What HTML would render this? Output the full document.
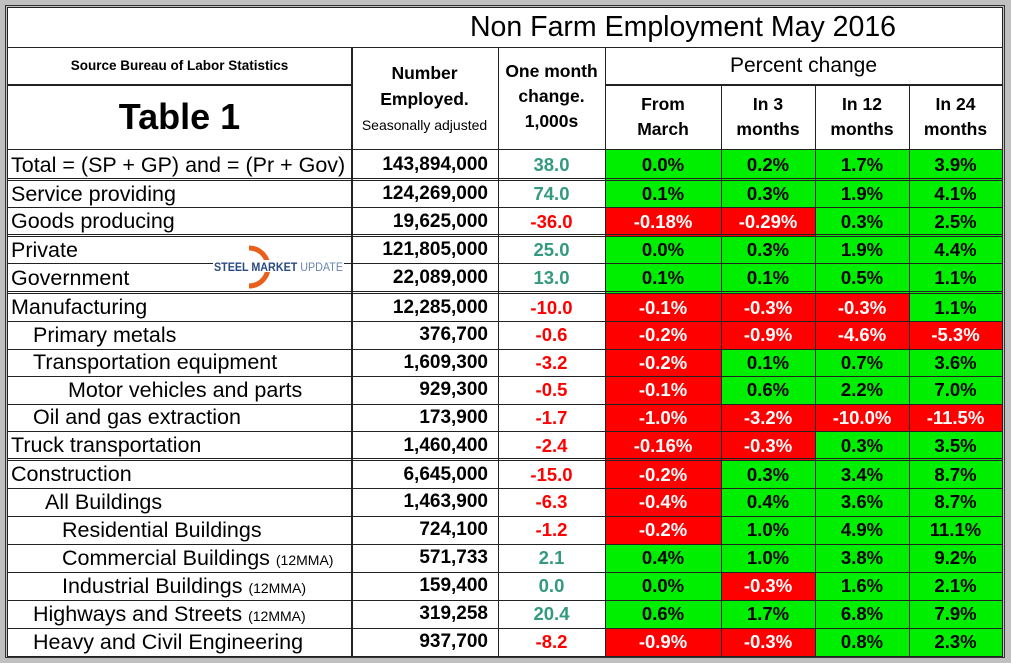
<!DOCTYPE html>
<html><head><meta charset="utf-8">
<style>
body{margin:0;width:1011px;height:663px;background:#c0c0c0;position:relative;overflow:hidden;font-family:"Liberation Sans",Arial,sans-serif}
#frame{position:absolute;left:5px;top:5px;width:1000px;height:653px;border:1px solid #333;box-sizing:border-box}
#tbl{position:absolute;left:7px;top:7px;width:996px;height:650px;background:#fff;border:1px solid #222;box-sizing:border-box}
.c{position:absolute;box-sizing:border-box;display:flex;align-items:center;white-space:nowrap;color:#000}
.hl{position:absolute;background:#222;height:1px}
.vl{position:absolute;background:#222;width:1px}
</style></head><body>
<div id="frame"></div>
<div id="tbl"></div>
<div id="root"></div>
<script>
const labels=["Total = (SP + GP) and = (Pr + Gov)","Service providing","Goods producing","Private","Government","Manufacturing","Primary metals","Transportation equipment","Motor vehicles and parts","Oil and gas extraction","Truck transportation","Construction","All Buildings","Residential Buildings","Commercial Buildings","Industrial Buildings","Highways and Streets","Heavy and Civil Engineering"];
const notes=["","","","","","","","","","","","","","","(12MMA)","(12MMA)","(12MMA)",""];
const indentLevel=[0,0,0,0,0,0,1,1,3,1,0,0,2,4,4,4,1,1];
const employed=["143,894,000","124,269,000","19,625,000","121,805,000","22,089,000","12,285,000","376,700","1,609,300","929,300","173,900","1,460,400","6,645,000","1,463,900","724,100","571,733","159,400","319,258","937,700"];
const monthChange=["38.0","74.0","-36.0","25.0","13.0","-10.0","-0.6","-3.2","-0.5","-1.7","-2.4","-15.0","-6.3","-1.2","2.1","0.0","20.4","-8.2"];
const fromMarch=["0.0%","0.1%","-0.18%","0.0%","0.1%","-0.1%","-0.2%","-0.2%","-0.1%","-1.0%","-0.16%","-0.2%","-0.4%","-0.2%","0.4%","0.0%","0.6%","-0.9%"];
const in3=["0.2%","0.3%","-0.29%","0.3%","0.1%","-0.3%","-0.9%","0.1%","0.6%","-3.2%","-0.3%","0.3%","0.4%","1.0%","1.0%","-0.3%","1.7%","-0.3%"];
const in12=["1.7%","1.9%","0.3%","1.9%","0.5%","-0.3%","-4.6%","0.7%","2.2%","-10.0%","0.3%","3.4%","3.6%","4.9%","3.8%","1.6%","6.8%","0.8%"];
const in24=["3.9%","4.1%","2.5%","4.4%","1.1%","1.1%","-5.3%","3.6%","7.0%","-11.5%","3.5%","8.7%","8.7%","11.1%","9.2%","2.1%","7.9%","2.3%"];

const root=document.getElementById('root');
const rowTops=[150,180,207,236,263,293,321,349,376,404,431,460,488,516,544,572,600,628,656];
const doubleAfter=[0,2,4,10];
const colX=[8,351,498,605,721,815,909,1002];
const indentPx=[3,25,37,60,54];
function cell(x,y,w,h,html,style){const d=document.createElement('div');d.className='c';d.style.cssText=`left:${x}px;top:${y}px;width:${w}px;height:${h}px;`+(style||'');d.innerHTML=html;root.appendChild(d);return d;}
function hl(x,y,w,h){const d=document.createElement('div');d.className='hl';d.style.cssText=`left:${x}px;top:${y}px;width:${w}px;height:${h||1}px`;root.appendChild(d);}
function vl(x,y,h){const d=document.createElement('div');d.className='vl';d.style.cssText=`left:${x}px;top:${y}px;height:${h}px`;root.appendChild(d);}

let t=cell(8,8,994,39,'Non Farm Employment May 2016','justify-content:center;padding-left:356px;font-size:28.5px;');

t=cell(8,47,343,37,'Source Bureau of Labor Statistics','justify-content:center;font-size:13.5px;font-weight:bold;');

t=cell(8,84,343,66,'Table 1','justify-content:center;font-size:36px;font-weight:bold;');

t=cell(351,47,147,103,'<div style="text-align:center;line-height:25px"><b style="font-size:17.5px">Number<br>Employed.</b><br><span style="font-size:14px;line-height:20px">Seasonally adjusted</span></div>','justify-content:center;padding-top:2px;');

t=cell(498,47,107,103,'<div style="text-align:center;line-height:25px;font-weight:bold;font-size:17.5px;margin-top:-4px">One month<br>change.<br>1,000s</div>','justify-content:center;');

t=cell(605,47,397,37,'Percent change','justify-content:center;font-size:21px;');

const subHeads=["From<br>March","In 3<br>months","In 12<br>months","In 24<br>months"];
const subNames=['header-from-march','header-in-3-months','header-in-12-months','header-in-24-months'];
for(let i=0;i<4;i++){t=cell(colX[i+3],84,colX[i+4]-colX[i+3],66,'<div style="text-align:center;line-height:25px">'+subHeads[i]+'</div>','justify-content:center;font-weight:bold;font-size:17.5px;');
}

const pctCols=[fromMarch,in3,in12,in24];
for(let r=0;r<labels.length;r++){
  const y=rowTops[r]+(doubleAfter.includes(r-1)?1:0), h=rowTops[r+1]-y;
  const pad=indentPx[indentLevel[r]];
  let c=cell(8,y,343,h,'<span>'+labels[r]+(notes[r]?' <span style="font-size:14px">'+notes[r]+'</span>':'')+'</span>',`padding-left:${pad}px;font-size:21.5px;`);
  
  c=cell(351,y,147,h,employed[r],'justify-content:flex-end;padding-right:10px;font-weight:bold;font-size:19px;');
  
  const neg=parseFloat(monthChange[r])<0;
  c=cell(498,y,107,h,monthChange[r],`justify-content:center;font-weight:bold;font-size:18.5px;color:${neg?'#ff0000':'#339980'};`);
  
  for(let k=0;k<4;k++){
    const v=pctCols[k][r];const n=parseFloat(v)<0;
    c=cell(colX[k+3],y,colX[k+4]-colX[k+3],h,v,`justify-content:center;font-weight:bold;font-size:18.5px;background:${n?'#ff0000':'#00ee00'};color:${n?'#fff':'#000'};`);
    
  }
}
hl(8,47,994,1);hl(8,84,343,2);hl(605,84,397,2);hl(8,149,994,1);
for(let r=1;r<labels.length;r++){
  if(doubleAfter.includes(r-1)){hl(8,rowTops[r]-2,994,1);hl(8,rowTops[r],994,1);}
  else hl(8,rowTops[r],994,1);
}
hl(8,656,994,1);
vl(351,47,610);vl(352,47,610);vl(498,47,610);vl(605,47,610);
for(let i=4;i<7;i++)vl(colX[i],84,573);
vl(1002,8,649);
</script>
<svg style="position:absolute;left:213px;top:244px" width="132" height="46">
<path d="M36 4 A19 19 0 1 1 36 42" fill="none" stroke="#e8601c" stroke-width="5"/>
<rect x="0" y="16" width="131" height="12" fill="#fff"/>
<text x="1" y="27" font-family="Liberation Sans,Arial,sans-serif" font-size="11.5" font-weight="bold" fill="#2a4a80" textLength="129" lengthAdjust="spacingAndGlyphs">STEEL MARKET <tspan font-weight="normal" fill="#6a85b0">UPDATE</tspan></text>
</svg>
</body></html>
